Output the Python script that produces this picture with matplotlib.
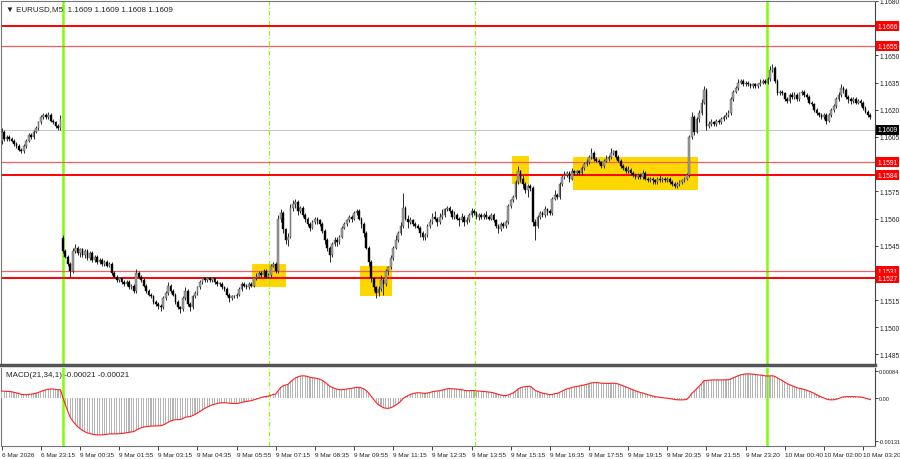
import numpy as np
import matplotlib
matplotlib.use("Agg")
import matplotlib.pyplot as plt
from matplotlib.transforms import blended_transform_factory

plt.rcParams["font.family"] = ["Liberation Sans Narrow", "Liberation Sans", "DejaVu Sans"]

# EURUSD M5, prices stored as pips above 1.1500
base = 1.1500
first_open = 103
gap_bar = 25
gap_open = 49

close_pips = [
    108, 104, 105, 104, 103, 101, 100, 98, 97, 100,
    103, 106, 105, 108, 110, 113, 116, 117, 116, 117,
    114, 113, 111, 110, 115, 42, 39, 35, 31, 42,
    44, 41, 43, 40, 42, 38, 41, 37, 39, 36,
    37, 35, 36, 34, 35, 30, 28, 26, 27, 25,
    24, 25, 22, 23, 20, 30, 28, 26, 23, 20,
    18, 17, 14, 13, 12, 11, 16, 19, 23, 20,
    18, 14, 11, 10, 16, 20, 13, 11, 17, 19,
    22, 25, 27, 26, 27, 26, 27, 25, 24, 24,
    22, 21, 18, 16, 17, 17, 18, 21, 24, 23,
    22, 24, 23, 27, 28, 30, 29, 31, 28, 29,
    34, 35, 31, 60, 63, 54, 48, 50, 66, 68,
    69, 64, 66, 62, 60, 57, 55, 58, 60, 59,
    57, 53, 48, 44, 40, 46, 48, 47, 50, 55,
    57, 59, 61, 60, 63, 64, 60, 57, 52, 44,
    36, 27, 22, 19, 21, 26, 24, 31, 33, 38,
    44, 48, 52, 56, 66, 60, 58, 59, 57, 56,
    55, 52, 50, 51, 56, 58, 61, 60, 58, 61,
    62, 65, 66, 64, 61, 62, 60, 59, 61, 58,
    59, 62, 64, 63, 61, 62, 61, 62, 61, 60,
    62, 59, 56, 54, 57, 56, 58, 67, 70, 72,
    80, 86, 82, 79, 76, 78, 77, 58, 56, 61,
    63, 62, 65, 64, 63, 71, 73, 72, 79, 83,
    84, 85, 82, 86, 85, 86, 85, 88, 90, 91,
    94, 96, 93, 92, 91, 89, 92, 93, 94, 96,
    97, 94, 92, 89, 88, 86, 87, 85, 84, 83,
    84, 83, 85, 82, 81, 82, 81, 80, 82, 81,
    82, 81, 82, 80, 79, 78, 79, 80, 81, 82,
    84, 105, 116, 108, 115, 118, 124, 131, 111, 112,
    113, 112, 114, 113, 115, 116, 117, 118, 126, 130,
    132, 135, 136, 134, 135, 134, 133, 134, 133, 134,
    135, 136, 135, 137, 142, 143, 136, 129, 130, 129,
    126, 125, 128, 127, 128, 126, 129, 130, 128, 127,
    124, 123, 120, 118, 117, 116, 117, 114, 117, 120,
    122, 126, 128, 132, 131, 127, 126, 125, 126, 124,
    125, 124, 121, 119, 117, 116,
]

high_pips = [
    110, 109, 106, 106, 105, 104, 102, 101, 99, 101,
    104, 107, 107, 109, 111, 114, 117, 118, 118, 119,
    118, 115, 114, 112, 117, 51, 43, 40, 36, 44,
    46, 45, 44, 44, 43, 43, 42, 42, 40, 40,
    38, 38, 37, 37, 36, 36, 31, 29, 28, 28,
    26, 26, 26, 24, 24, 32, 31, 29, 27, 24,
    21, 19, 18, 15, 14, 13, 17, 20, 25, 24,
    21, 19, 15, 12, 17, 22, 21, 14, 18, 20,
    23, 26, 28, 28, 28, 28, 28, 28, 26, 25,
    25, 23, 22, 19, 18, 18, 19, 22, 25, 25,
    24, 25, 25, 28, 30, 31, 31, 32, 32, 30,
    35, 36, 36, 62, 65, 64, 55, 52, 68, 70,
    71, 70, 67, 67, 63, 61, 58, 59, 61, 61,
    60, 58, 54, 49, 45, 47, 50, 50, 51, 56,
    58, 60, 62, 62, 64, 65, 65, 61, 58, 53,
    45, 37, 28, 23, 23, 29, 27, 32, 34, 40,
    45, 51, 53, 58, 74, 67, 62, 61, 60, 58,
    57, 56, 53, 52, 57, 60, 63, 64, 61, 63,
    65, 66, 67, 67, 65, 64, 63, 61, 63, 62,
    61, 63, 66, 65, 64, 63, 63, 63, 64, 62,
    63, 63, 60, 57, 58, 58, 59, 68, 71, 73,
    81, 89, 87, 84, 80, 79, 79, 78, 60, 62,
    64, 64, 67, 66, 65, 72, 76, 74, 80, 84,
    86, 86, 86, 88, 87, 87, 87, 89, 91, 93,
    95, 99, 97, 94, 93, 92, 93, 95, 95, 99,
    98, 98, 95, 93, 90, 89, 89, 88, 86, 85,
    85, 85, 87, 86, 83, 83, 83, 82, 83, 84,
    83, 83, 83, 83, 81, 80, 80, 81, 82, 83,
    85, 106, 119, 117, 116, 120, 126, 133, 132, 114,
    115, 114, 115, 115, 116, 117, 119, 120, 127, 131,
    133, 137, 137, 137, 136, 136, 135, 135, 135, 135,
    137, 137, 137, 138, 144, 145, 144, 137, 131, 131,
    130, 127, 129, 130, 130, 129, 130, 131, 131, 129,
    128, 125, 124, 121, 119, 118, 118, 118, 118, 121,
    123, 127, 130, 134, 133, 132, 128, 127, 127, 127,
    126, 126, 125, 122, 120, 118,
]

low_pips = [
    101, 103, 103, 103, 102, 100, 99, 97, 96, 96,
    99, 102, 104, 104, 107, 109, 112, 115, 115, 115,
    113, 112, 110, 109, 109, 41, 38, 34, 28, 30,
    41, 40, 39, 39, 38, 37, 37, 36, 36, 35,
    35, 34, 34, 33, 33, 29, 27, 25, 25, 24,
    23, 23, 21, 21, 19, 19, 27, 25, 22, 19,
    17, 16, 13, 12, 10, 9, 10, 15, 18, 19,
    17, 13, 10, 8, 9, 15, 12, 9, 10, 16,
    18, 21, 24, 25, 25, 25, 25, 24, 23, 23,
    21, 20, 17, 14, 15, 16, 16, 17, 20, 22,
    21, 21, 22, 22, 26, 27, 28, 28, 27, 27,
    28, 33, 30, 30, 58, 52, 46, 45, 49, 64,
    66, 62, 63, 61, 58, 56, 53, 54, 57, 57,
    56, 52, 46, 42, 36, 39, 45, 45, 46, 49,
    54, 56, 58, 58, 59, 62, 59, 55, 50, 43,
    34, 25, 20, 16, 17, 20, 18, 23, 29, 32,
    37, 43, 47, 51, 55, 59, 55, 57, 56, 55,
    54, 50, 48, 48, 50, 55, 57, 59, 56, 57,
    60, 61, 64, 63, 60, 60, 59, 56, 58, 56,
    57, 58, 61, 62, 60, 59, 60, 60, 60, 59,
    59, 58, 55, 52, 53, 55, 55, 57, 66, 69,
    71, 79, 80, 77, 74, 72, 75, 56, 48, 55,
    60, 61, 61, 62, 62, 62, 70, 71, 71, 78,
    82, 83, 80, 81, 84, 84, 84, 84, 87, 89,
    90, 93, 92, 91, 90, 88, 88, 91, 92, 93,
    95, 93, 91, 88, 87, 85, 85, 84, 83, 82,
    82, 82, 82, 81, 80, 80, 79, 79, 79, 80,
    80, 80, 80, 79, 78, 77, 77, 78, 79, 80,
    81, 83, 104, 106, 107, 113, 117, 123, 109, 110,
    111, 111, 111, 112, 112, 114, 115, 116, 117, 125,
    129, 131, 134, 133, 133, 133, 132, 132, 132, 132,
    133, 134, 134, 134, 136, 141, 135, 128, 128, 128,
    125, 124, 124, 126, 126, 125, 125, 128, 127, 126,
    123, 122, 119, 117, 116, 115, 115, 112, 113, 116,
    119, 121, 125, 127, 129, 126, 124, 123, 124, 123,
    123, 122, 120, 118, 116, 115,
]

time_labels = [
    "6 Mar 2026", "6 Mar 23:15", "9 Mar 00:35", "9 Mar 01:55", "9 Mar 03:15",
    "9 Mar 04:35", "9 Mar 05:55", "9 Mar 07:15", "9 Mar 08:35", "9 Mar 09:55",
    "9 Mar 11:15", "9 Mar 12:35", "9 Mar 13:55", "9 Mar 15:15", "9 Mar 16:35",
    "9 Mar 17:55", "9 Mar 19:15", "9 Mar 20:35", "9 Mar 21:55", "9 Mar 23:20",
    "10 Mar 00:40", "10 Mar 02:00", "10 Mar 03:20",
]
label_step = 16

levels = [1.1666, 1.1655, 1.1591, 1.1584, 1.1531, 1.1527]
level_thick = [True, False, False, True, False, True]
last_price = 1.1609

# yellow zones: bar from, bar to, price low, price high
zone_bar_from = [102.2, 146.4, 208.7, 233.6]
zone_bar_to = [116.2, 159.4, 215.5, 284.7]
zone_low = [1.1522, 1.1517, 1.1579, 1.15755]
zone_high = [1.15349, 1.1534, 1.15944, 1.15942]

solid_vlines = [25, 312.6]
dashed_vlines = [109.4, 193.4]

price_ticks = [1.1485, 1.1500, 1.1515, 1.1530, 1.1545, 1.1560, 1.1575,
               1.1590, 1.1605, 1.1620, 1.1635, 1.1650, 1.1665, 1.1680]
hidden_ticks = [1.1530, 1.1590, 1.1665]

macd_seed_fast = 1.1601
macd_seed_slow = 1.1599


def ema(values, span, seed):
    a = 2 / (span + 1)
    out = []
    cur = seed
    for v in values:
        cur = cur + a * (v - cur)
        out.append(cur)
    return np.array(out)


def draw_candles(ax, x, o, h, l, c):
    up = c >= o
    ax.vlines(x, l, h, color="#2a2a2a", lw=0.7, zorder=3)
    body_low = np.minimum(o, c)
    body_h = np.maximum(np.abs(c - o), 0.00003)
    ax.bar(x[up], body_h[up], bottom=body_low[up], width=0.7,
           color="#a0a0a0", edgecolor="#4a4a4a", linewidth=0.3, zorder=4)
    ax.bar(x[~up], body_h[~up], bottom=body_low[~up], width=0.7,
           color="#000000", edgecolor="#000000", linewidth=0.3, zorder=4)


def price_label(ax, y, text, bg):
    tr = blended_transform_factory(ax.transAxes, ax.transData)
    ax.text(1.0025, y, text, transform=tr, ha="left", va="center",
            fontsize=4.8, color="white", clip_on=False, zorder=20,
            bbox=dict(boxstyle="square,pad=0.22", fc=bg, ec="none"))


closes = base + np.array(close_pips) / 10000
highs = base + np.array(high_pips) / 10000
lows = base + np.array(low_pips) / 10000
opens = np.r_[base + first_open / 10000, closes[:-1]]
opens[gap_bar] = base + gap_open / 10000
x = np.arange(len(closes))

macd = ema(closes, 21, macd_seed_fast) - ema(closes, 34, macd_seed_slow)

fig = plt.figure(figsize=(9, 4.6), dpi=100)
ax = fig.add_axes([1 / 900, 1 - 366 / 460, 874 / 900, 364 / 460])
ax2 = fig.add_axes([1 / 900, 1 - 447 / 460, 874 / 900, 78 / 460])

for a in (ax, ax2):
    a.set_xlim(-0.3, 356.9)
    a.yaxis.tick_right()
    a.tick_params(axis="y", length=2, width=0.6, pad=1, labelsize=4.8,
                  colors="#222222")
    for side in a.spines:
        a.spines[side].set_color("#777777")
        a.spines[side].set_linewidth(0.8)
    for v in solid_vlines:
        a.axvline(v, color="#7fff00", lw=1.8, zorder=2)
    for v in dashed_vlines:
        a.axvline(v, color="#7fff00", lw=0.8, ls=(0, (4, 2, 1, 2)), zorder=2)

# main chart
ax.set_ylim(1.14792, 1.16798)
ax.set_xticks([])
ax.set_yticks(price_ticks)
ax.set_yticklabels(["" if t in hidden_ticks else f"{t:.4f}" for t in price_ticks])
ax.spines["bottom"].set_linewidth(2.5)
ax.spines["bottom"].set_color("#555555")
ax.spines["right"].set_color("#444444")

for x0, x1, lo, hi in zip(zone_bar_from, zone_bar_to, zone_low, zone_high):
    ax.add_patch(plt.Rectangle((x0, lo), x1 - x0, hi - lo, color="#ffd700",
                               lw=0, zorder=1))

for lvl, thick in zip(levels, level_thick):
    if thick:
        ax.axhline(lvl, color="#ff0000", lw=1.4, zorder=2)
    else:
        ax.axhline(lvl, color="#f26060", lw=0.9, zorder=2)
    price_label(ax, lvl, f"{lvl:.4f}", "#ff0000")
ax.axhline(last_price, color="#c8c8c8", lw=0.8, zorder=1.5)
price_label(ax, last_price, f"{last_price:.4f}", "#000000")

draw_candles(ax, x, opens, highs, lows, closes)

ax.text(0.006, 0.988, "\u25bc EURUSD,M5  1.1609 1.1609 1.1608 1.1609",
        transform=ax.transAxes, fontsize=5.8, va="top", ha="left",
        color="#222222")

# MACD panel
ax2.set_ylim(-0.00147, 0.00092)
ax2.spines["top"].set_visible(False)
ax2.spines["right"].set_color("#444444")
ax2.bar(x, macd, width=0.45, color="#b4b4b4", zorder=3)
ax2.plot(x, macd, color="#ff2020", lw=0.8, zorder=4)
ax2.set_yticks([0.00084, 0.0, -0.00131])
ax2.set_yticklabels(["0.00084", "0.00", "-0.00131"])
ax2.tick_params(axis="y", labelsize=4.0)
ax2.text(0.006, 0.96, "MACD(21,34,1) -0.00021 -0.00021",
         transform=ax2.transAxes, fontsize=5.8, va="top", ha="left",
         color="#222222")

tick_pos = np.arange(len(time_labels)) * label_step
ax2.set_xticks(tick_pos)
ax2.set_xticklabels(time_labels)
ax2.tick_params(axis="x", length=3, width=0.6, pad=1.5, labelsize=4.6,
                colors="#222222")
for lab in ax2.get_xticklabels():
    lab.set_horizontalalignment("left")

fig.savefig("out.png", dpi=100, facecolor="white")
